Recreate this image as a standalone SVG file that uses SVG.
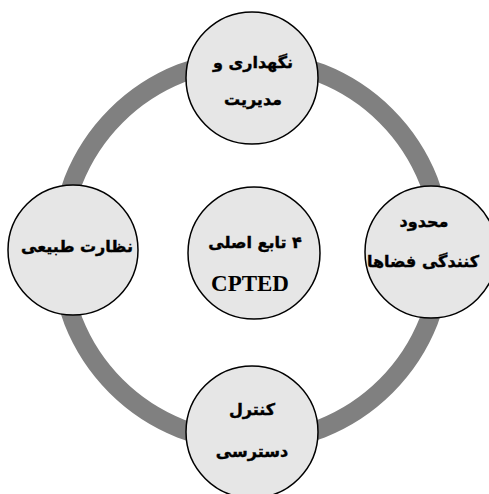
<svg xmlns="http://www.w3.org/2000/svg" width="489" height="494" viewBox="0 0 489 494">
<style>
.node{fill:#e6e6e6;stroke:#000;stroke-width:1.5}
.fa{font-family:"DejaVu Sans",sans-serif;font-weight:bold;font-size:16px;fill:#000;stroke:#000;stroke-width:0.4;text-anchor:middle;direction:rtl}
.en{font-family:"Liberation Serif",serif;font-weight:bold;font-size:23px;fill:#000;text-anchor:middle}
</style>
<rect width="489" height="494" fill="#fff"/>
<g id="connectors">
<circle cx="251" cy="251" r="191" fill="none" stroke="#808080" stroke-width="19"/>
</g>
<g id="node-top">
<circle class="node" cx="252" cy="78" r="66"/>
<text class="fa" x="253" y="68">نگهداری و</text>
<text class="fa" x="253" y="105">مدیریت</text>
</g>
<g id="node-left">
<circle class="node" cx="73" cy="250" r="65"/>
<text class="fa" x="77" y="252">نظارت طبیعی</text>
</g>
<g id="node-right">
<circle class="node" cx="431" cy="252" r="66"/>
<text class="fa" x="424" y="227">محدود</text>
<text class="fa" x="423" y="267">کنندگی فضاها</text>
</g>
<g id="node-bottom">
<circle class="node" cx="252" cy="432" r="66"/>
<text class="fa" x="252" y="415">کنترل</text>
<text class="fa" x="252" y="457">دسترسی</text>
</g>
<g id="node-center">
<circle class="node" cx="254" cy="253" r="66"/>
<text class="fa" x="255" y="248">۴ تابع اصلی</text>
<text class="en" x="250" y="291">CPTED</text>
</g>
</svg>
